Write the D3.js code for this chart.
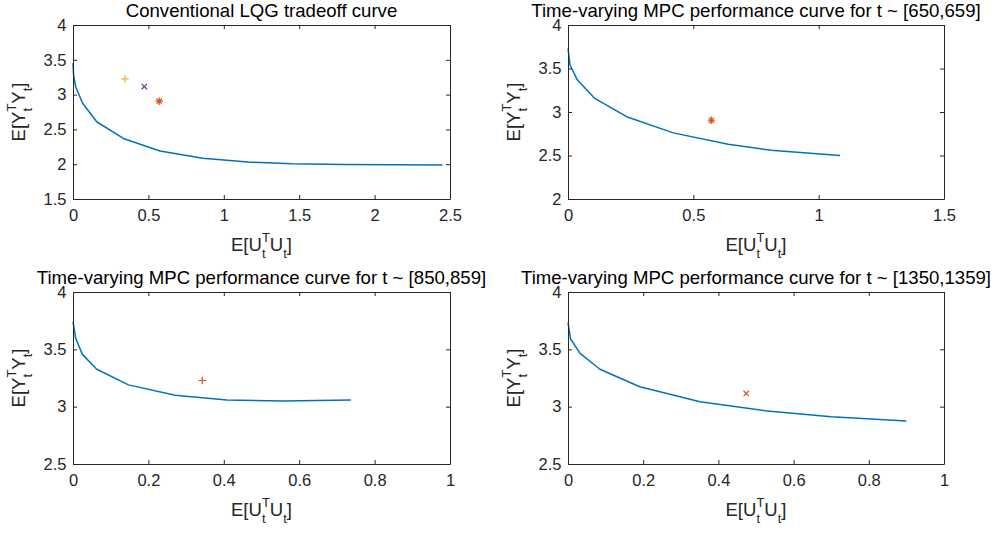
<!DOCTYPE html>
<html><head><meta charset="utf-8">
<script src="https://cdn.jsdelivr.net/npm/d3@7"></script>
<style>
body{margin:0;background:#fff;}
svg{display:block;font-family:"Liberation Sans",Arial,Helvetica,sans-serif;}
</style></head><body>
<svg id="fig" width="998" height="533"></svg>
<script>
// ---- data ----
const titles = [
  "Conventional LQG tradeoff curve",
  "Time-varying MPC performance curve for t ~ [650,659]",
  "Time-varying MPC performance curve for t ~ [850,859]",
  "Time-varying MPC performance curve for t ~ [1350,1359]"
];
// curve: x = E[U'U], y = E[Y'Y]
const lqgU = [0, 0.004, 0.018, 0.064, 0.157, 0.334, 0.577, 0.86, 1.16, 1.45, 1.8, 2.45];
const lqgY = [3.45, 3.28, 3.11, 2.875, 2.61, 2.37, 2.19, 2.085, 2.03, 2.005, 1.995, 1.99];
const mpc650U = [0, 0.008, 0.037, 0.105, 0.234, 0.42, 0.639, 0.81, 1.085];
const mpc650Y = [3.73, 3.54, 3.37, 3.16, 2.946, 2.76, 2.63, 2.56, 2.50];
const mpc850U = [0, 0.002, 0.007, 0.025, 0.063, 0.147, 0.271, 0.408, 0.558, 0.737];
const mpc850Y = [3.74, 3.70, 3.596, 3.456, 3.326, 3.19, 3.10, 3.058, 3.049, 3.058];
const mpc1350U = [0, 0.007, 0.032, 0.085, 0.191, 0.351, 0.523, 0.70, 0.90];
const mpc1350Y = [3.735, 3.59, 3.465, 3.326, 3.174, 3.043, 2.965, 2.912, 2.875];
// operating points: [x, y, marker]
const lqgPoints = [[0.345, 3.225, "plus"], [0.473, 3.115, "cross"], [0.572, 2.905, "star"]];
const mpc650Points = [[0.572, 2.905, "star"]];
const mpc850Points = [[0.343, 3.228, "plus"]];
const mpc1350Points = [[0.474, 3.115, "cross"]];
// axis ticks
const xTicks1 = [0, 0.5, 1, 1.5, 2, 2.5];
const yTicks1 = [1.5, 2, 2.5, 3, 3.5, 4];
const xTicks2 = [0, 0.5, 1, 1.5];
const yTicks2 = [2, 2.5, 3, 3.5, 4];
const xTicks34 = [0, 0.2, 0.4, 0.6, 0.8, 1];
const yTicks34 = [2.5, 3, 3.5, 4];

const lqgColors = {plus: "#EDB120", cross: "#7E2F8E", star: "#D95319"};

const panels = [
  {title: titles[0], U: lqgU, Y: lqgY, pts: lqgPoints, colors: lqgColors,
   xd: [0, 2.5], yd: [1.5, 4], xt: xTicks1, yt: yTicks1, box: [73, 25, 450, 199]},
  {title: titles[1], U: mpc650U, Y: mpc650Y, pts: mpc650Points, colors: null,
   xd: [0, 1.5], yd: [2, 4], xt: xTicks2, yt: yTicks2, box: [568, 25, 944, 199]},
  {title: titles[2], U: mpc850U, Y: mpc850Y, pts: mpc850Points, colors: null,
   xd: [0, 1], yd: [2.5, 4], xt: xTicks34, yt: yTicks34, box: [73, 292, 450, 464]},
  {title: titles[3], U: mpc1350U, Y: mpc1350Y, pts: mpc1350Points, colors: null,
   xd: [0, 1], yd: [2.5, 4], xt: xTicks34, yt: yTicks34, box: [568, 292, 944, 464]}
];

const svg = d3.select("#fig");
const axisColor = "#262626";
const fmt = d => String(d);

function markerPath(type) {
  const p = d3.path();
  const a = 3.8, c = 2.7;
  if (type === "plus" || type === "star") {
    p.moveTo(-a, 0); p.lineTo(a, 0); p.moveTo(0, -a); p.lineTo(0, a);
  }
  if (type === "cross") {
    p.moveTo(-c, -c); p.lineTo(c, c); p.moveTo(-c, c); p.lineTo(c, -c);
  }
  if (type === "star") {
    const s = 2.7;
    p.moveTo(-s, -s); p.lineTo(s, s); p.moveTo(-s, s); p.lineTo(s, -s);
  }
  return p.toString();
}

function texLabel(sel, base) {
  // renders E[B_t^T B_t] with stacked sub/superscript
  const t = sel.append("text").attr("fill", axisColor).attr("font-size", 18.5);
  t.append("tspan").text("E[" + base);
  const sub = t.append("tspan").attr("font-size", 13).attr("dy", 7).text("t");
  const w = sub.node().getComputedTextLength();
  t.append("tspan").attr("font-size", 13).attr("dx", -w).attr("dy", -16).text("T");
  t.append("tspan").attr("dy", 9).text(base);
  t.append("tspan").attr("font-size", 13).attr("dy", 7).text("t");
  t.append("tspan").attr("dy", -7).text("]");
  return t;
}

panels.forEach(P => {
  const [x0, y0, x1, y1] = P.box;
  const x = d3.scaleLinear().domain(P.xd).range([x0, x1]);
  const y = d3.scaleLinear().domain(P.yd).range([y1, y0]);
  const g = svg.append("g");

  // curve
  const line = d3.line().x(d => x(d[0])).y(d => y(d[1]));
  g.append("path").datum(P.U.map((u, i) => [u, P.Y[i]]))
    .attr("d", line).attr("fill", "none").attr("stroke", "#0072BD")
    .attr("stroke-width", 1.5).attr("stroke-linejoin", "round");

  // markers
  g.selectAll(".mk").data(P.pts).enter().append("path")
    .attr("transform", d => `translate(${x(d[0])},${y(d[1])})`)
    .attr("d", d => markerPath(d[2]))
    .attr("fill", "none")
    .attr("stroke", d => P.colors ? P.colors[d[2]] : "#D95319")
    .attr("stroke-width", 1.2);

  // axes (MATLAB style: inward ticks, box)
  const tl = 4;
  const axB = g.append("g").attr("transform", `translate(0,${y1})`)
    .call(d3.axisBottom(x).tickValues(P.xt).tickFormat(fmt).tickSizeInner(-tl).tickSizeOuter(0).tickPadding(10));
  const axT = g.append("g").attr("transform", `translate(0,${y0})`)
    .call(d3.axisTop(x).tickValues(P.xt).tickFormat("").tickSizeInner(-tl).tickSizeOuter(0));
  const axL = g.append("g").attr("transform", `translate(${x0},0)`)
    .call(d3.axisLeft(y).tickValues(P.yt).tickFormat(fmt).tickSizeInner(-tl).tickSizeOuter(0).tickPadding(6.5));
  const axR = g.append("g").attr("transform", `translate(${x1},0)`)
    .call(d3.axisRight(y).tickValues(P.yt).tickFormat("").tickSizeInner(-tl).tickSizeOuter(0));
  [axB, axT, axL, axR].forEach(a => {
    a.select(".domain").attr("stroke", axisColor).attr("stroke-width", 1);
    a.selectAll(".tick line").attr("stroke", axisColor);
    a.selectAll("text").attr("fill", axisColor).attr("font-size", 16.5)
      .attr("font-family", "\"Liberation Sans\",Arial,sans-serif");
  });

  // title
  g.append("text").attr("x", (x0 + x1) / 2).attr("y", y0 - 8)
    .attr("text-anchor", "middle").attr("font-size", 18.6).attr("fill", "#000")
    .text(P.title);

  // x label
  const xl = texLabel(g, "U");
  const wx = xl.node().getBBox().width;
  xl.attr("x", (x0 + x1) / 2 - wx / 2).attr("y", y1 + 52);

  // y label
  const yl = texLabel(g, "Y");
  const wy = yl.node().getBBox().width;
  yl.attr("transform", `translate(${x0 - 48},${(y0 + y1) / 2 + wy / 2}) rotate(-90)`);
});
</script>
</body></html>
